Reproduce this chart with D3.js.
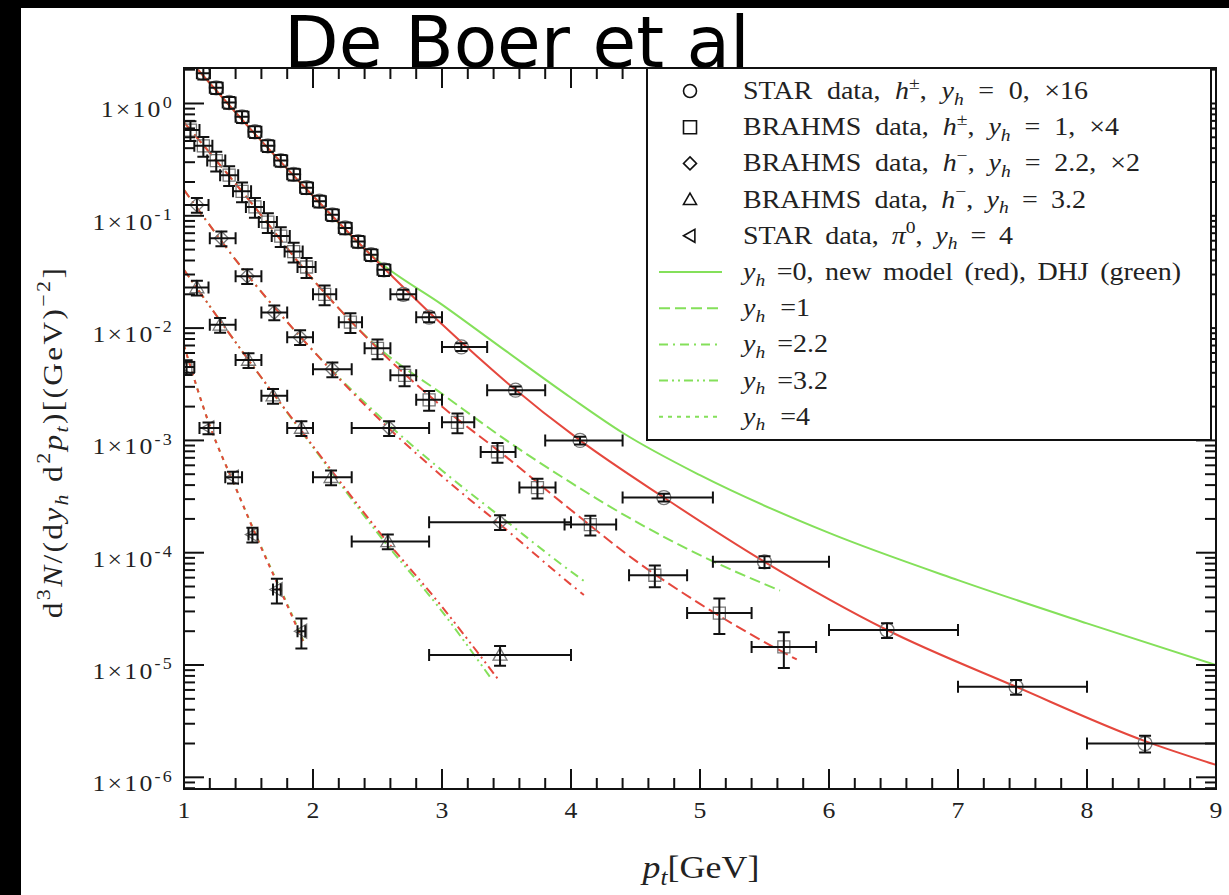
<!DOCTYPE html>
<html>
<head>
<meta charset="utf-8">
<script src="https://cdn.jsdelivr.net/npm/d3@7"></script>
<style>
  html, body { margin: 0; padding: 0; background: #fff; }
  svg { display: block; }
</style>
</head>
<body>
<script>
// ---- data -------------------------------------------------------------
// each row: [pt, value, ptLow, ptHigh, relative error]
const starY0 = [
  [1.15, 1.86, 1.10, 1.20, 0.12], [1.25, 1.38, 1.20, 1.30, 0.12],
  [1.35, 1.02, 1.30, 1.40, 0.12], [1.45, 0.76, 1.40, 1.50, 0.12],
  [1.55, 0.56, 1.50, 1.60, 0.12], [1.65, 0.42, 1.60, 1.70, 0.12],
  [1.75, 0.31, 1.70, 1.80, 0.12], [1.85, 0.234, 1.80, 1.90, 0.12],
  [1.95, 0.178, 1.90, 2.00, 0.12], [2.05, 0.135, 2.00, 2.10, 0.12],
  [2.15, 0.102, 2.10, 2.20, 0.12], [2.25, 0.078, 2.20, 2.30, 0.12],
  [2.35, 0.059, 2.30, 2.40, 0.12], [2.45, 0.045, 2.40, 2.50, 0.12],
  [2.55, 0.033, 2.50, 2.60, 0.12], [2.70, 0.020, 2.60, 2.80, 0.10],
  [2.90, 0.0125, 2.80, 3.00, 0.10], [3.15, 0.0068, 3.00, 3.35, 0.08],
  [3.57, 0.0028, 3.35, 3.80, 0.08], [4.07, 0.00100, 3.80, 4.40, 0.08],
  [4.72, 0.00031, 4.40, 5.10, 0.08], [5.50, 8.3e-5, 5.10, 6.00, 0.12],
  [6.45, 2.05e-5, 6.00, 7.00, 0.15], [7.45, 6.4e-6, 7.00, 8.00, 0.15],
  [8.45, 2.0e-6, 8.00, 9.00, 0.17]
];
const brahmsY1 = [
  [1.05, 0.58, 0.98, 1.12, 0.2], [1.15, 0.42, 1.08, 1.22, 0.2],
  [1.25, 0.31, 1.18, 1.32, 0.2], [1.35, 0.23, 1.28, 1.42, 0.2],
  [1.45, 0.165, 1.38, 1.52, 0.2], [1.55, 0.12, 1.48, 1.62, 0.2],
  [1.65, 0.088, 1.58, 1.72, 0.2], [1.75, 0.066, 1.68, 1.82, 0.2],
  [1.85, 0.048, 1.78, 1.92, 0.2], [1.95, 0.035, 1.88, 2.02, 0.2],
  [2.09, 0.020, 2.00, 2.18, 0.2], [2.29, 0.0113, 2.20, 2.38, 0.2],
  [2.50, 0.0066, 2.40, 2.60, 0.2], [2.71, 0.0038, 2.60, 2.80, 0.2],
  [2.90, 0.0023, 2.80, 3.00, 0.2], [3.12, 0.00145, 3.00, 3.25, 0.2],
  [3.43, 0.00079, 3.30, 3.57, 0.2], [3.74, 0.00038, 3.60, 3.88, 0.2],
  [4.15, 1.78e-4, 3.95, 4.35, 0.2], [4.65, 6.3e-5, 4.45, 4.90, 0.22],
  [5.15, 2.9e-5, 4.90, 5.40, 0.35], [5.65, 1.45e-5, 5.40, 5.90, 0.35]
];
const brahmsY22 = [
  [1.10, 0.125, 1.00, 1.19, 0.15], [1.29, 0.063, 1.20, 1.40, 0.15],
  [1.49, 0.029, 1.40, 1.60, 0.15], [1.70, 0.0138, 1.60, 1.80, 0.15],
  [1.90, 0.0083, 1.80, 2.00, 0.15], [2.15, 0.0043, 2.00, 2.30, 0.15],
  [2.59, 0.00129, 2.30, 2.90, 0.15], [3.45, 1.87e-4, 2.90, 4.00, 0.15]
];
const brahmsY32 = [
  [1.10, 0.023, 1.00, 1.19, 0.15], [1.28, 0.0107, 1.20, 1.40, 0.15],
  [1.50, 0.0052, 1.40, 1.60, 0.15], [1.69, 0.0025, 1.60, 1.80, 0.15],
  [1.91, 0.00129, 1.80, 2.00, 0.15], [2.14, 0.00047, 2.00, 2.30, 0.15],
  [2.58, 1.26e-4, 2.30, 2.90, 0.15], [3.45, 1.23e-5, 2.90, 4.00, 0.2]
];
const starY4 = [
  [1.02, 4.5e-3, 0.95, 1.08, 0.15], [1.19, 1.29e-3, 1.12, 1.28, 0.12],
  [1.38, 4.7e-4, 1.32, 1.45, 0.12], [1.53, 1.45e-4, 1.50, 1.57, 0.15],
  [1.72, 4.7e-5, 1.69, 1.75, 0.25], [1.91, 2.0e-5, 1.88, 1.94, 0.3]
];

// model curves: [pt, value]
const redY0 = [[1.1, 2.05], [1.5, 0.62], [2.0, 0.150], [2.5, 0.039], [3.0, 0.0108],
  [3.5, 0.0033], [4.07, 0.00100], [4.72, 3.1e-4], [5.5, 8.3e-5], [6.45, 2.05e-5],
  [7.45, 6.4e-6], [8.45, 2.1e-6], [9.0, 1.29e-6]];
const greenY0 = [[1.1, 2.05], [1.5, 0.62], [2.0, 0.150], [2.5, 0.040], [3.0, 0.0162],
  [3.5, 0.0062], [4.0, 0.0024], [4.4, 1.17e-3], [5.0, 4.9e-4], [6.0, 1.5e-4],
  [7.0, 5.7e-5], [8.0, 2.35e-5], [9.0, 1.0e-5]];
const redY1 = [[1.0, 0.68], [1.5, 0.14], [2.0, 0.027], [2.5, 0.0066], [3.0, 0.0020],
  [3.5, 7.1e-4], [4.0, 2.4e-4], [4.5, 8.5e-5], [5.0, 3.5e-5], [5.5, 1.6e-5],
  [5.75, 1.12e-5]];
const greenY1 = [[1.0, 0.68], [1.5, 0.14], [2.0, 0.027], [2.5, 0.0068], [3.0, 0.0026],
  [3.5, 1.0e-3], [4.0, 4.2e-4], [4.5, 1.9e-4], [5.0, 9.5e-5], [5.62, 4.6e-5]];
const redY22 = [[1.0, 0.17], [1.5, 0.029], [2.0, 0.0063], [2.5, 0.0016], [3.0, 4.8e-4],
  [3.5, 1.6e-4], [4.0, 5.2e-5], [4.1, 4.2e-5]];
const greenY22 = [[1.0, 0.17], [1.5, 0.029], [2.0, 0.0063], [2.5, 0.0017], [3.0, 5.4e-4],
  [3.5, 1.9e-4], [4.0, 6.8e-5], [4.1, 5.6e-5]];
const redY32 = [[1.0, 0.033], [1.5, 0.0052], [2.0, 8.9e-4], [2.5, 1.6e-4], [3.0, 3.3e-5],
  [3.43, 7.6e-6]];
const greenY32 = [[1.0, 0.033], [1.5, 0.0052], [2.0, 8.7e-4], [2.5, 1.5e-4], [3.0, 3.0e-5],
  [3.38, 7.6e-6]];
const redY4 = [[1.0, 7.0e-3], [1.2, 1.35e-3], [1.4, 3.8e-4], [1.6, 1.1e-4], [1.8, 3.4e-5],
  [1.93, 1.55e-5]];
const greenY4 = [[1.0, 7.0e-3], [1.2, 1.35e-3], [1.4, 3.8e-4], [1.6, 1.12e-4], [1.8, 3.5e-5],
  [1.93, 1.6e-5]];

const xTickValues = [1, 2, 3, 4, 5, 6, 7, 8, 9];
const yDecadeExponents = [0, -1, -2, -3, -4, -5, -6];

// line styles per rapidity
const DASH = { y0: null, y1: "11,5", y22: "9,5,2,5", y32: "9,4,2,4,2,4", y4: "4,5" };

const legendRows = [
  { marker: "circle", parts: [{ t: "STAR data, " }, { t: "h", i: 1 }, { t: "±", sup: 1 }, { t: ", " }, { t: "y", i: 1 }, { t: "h", i: 1, sub: 1 }, { t: " = 0, ×16" }] },
  { marker: "square", parts: [{ t: "BRAHMS data, " }, { t: "h", i: 1 }, { t: "±", sup: 1 }, { t: ", " }, { t: "y", i: 1 }, { t: "h", i: 1, sub: 1 }, { t: " = 1, ×4" }] },
  { marker: "diamond", parts: [{ t: "BRAHMS data, " }, { t: "h", i: 1 }, { t: "−", sup: 1 }, { t: ", " }, { t: "y", i: 1 }, { t: "h", i: 1, sub: 1 }, { t: " = 2.2, ×2" }] },
  { marker: "triangle", parts: [{ t: "BRAHMS data, " }, { t: "h", i: 1 }, { t: "−", sup: 1 }, { t: ", " }, { t: "y", i: 1 }, { t: "h", i: 1, sub: 1 }, { t: " = 3.2" }] },
  { marker: "ltriangle", parts: [{ t: "STAR data, " }, { t: "π", i: 1 }, { t: "0", sup: 1 }, { t: ", " }, { t: "y", i: 1 }, { t: "h", i: 1, sub: 1 }, { t: " = 4" }] },
  { dash: DASH.y0, parts: [{ t: "y", i: 1 }, { t: "h", i: 1, sub: 1 }, { t: " =0, new model (red), DHJ (green)" }] },
  { dash: DASH.y1, parts: [{ t: "y", i: 1 }, { t: "h", i: 1, sub: 1 }, { t: " =1" }] },
  { dash: DASH.y22, parts: [{ t: "y", i: 1 }, { t: "h", i: 1, sub: 1 }, { t: " =2.2" }] },
  { dash: DASH.y32, parts: [{ t: "y", i: 1 }, { t: "h", i: 1, sub: 1 }, { t: " =3.2" }] },
  { dash: DASH.y4, parts: [{ t: "y", i: 1 }, { t: "h", i: 1, sub: 1 }, { t: " =4" }] }
];
// drawn width of each legend label
const legendTextWidths = [345, 376, 397, 343, 270, 438, 67, 85, 85, 67];

// ---- layout -------------------------------------------------------------
const W = 1229, H = 895;
const plot = { left: 184, right: 1216, top: 68, bottom: 789 };
const RED = "#e5473d", GREEN = "#84e05a";
const SERIF = "'Liberation Serif', 'DejaVu Serif', serif";
const SX = 1.12;           // horizontal stretch giving the serif face a wider, TeX-like set
const INK = "#222";

const svg = d3.select("body").append("svg").attr("width", W).attr("height", H);
svg.append("rect").attr("width", W).attr("height", H).attr("fill", "#fff");

const x = d3.scaleLinear().domain([1, 9]).range([plot.left, plot.right]);
const y = d3.scaleLog().domain([Math.pow(10, -6.104), Math.pow(10, 0.316)]).range([plot.bottom, plot.top]);

function rich(textSel, parts, size) {
  let shift = 0;
  parts.forEach(p => {
    const target = p.sup ? -0.42 * size : p.sub ? 0.22 * size : 0;
    const ts = textSel.append("tspan").text(p.t).attr("dy", target - shift);
    shift = target;
    if (p.sup || p.sub) ts.attr("font-size", size * 0.7);
    if (p.i) ts.attr("font-style", "italic");
  });
}

// a serif label anchored at (px, py), optionally rotated, stretched by SX along its run
function label(parent, px, py, size, opts = {}) {
  const g = parent.append("g")
    .attr("transform", `translate(${px},${py})${opts.rotate ? ` rotate(${opts.rotate})` : ""} scale(${SX},1)`);
  return g.append("text").attr("x", 0).attr("y", 0)
    .attr("text-anchor", opts.anchor || "start")
    .attr("font-family", SERIF).attr("font-size", size).attr("fill", INK);
}
// widen a label to a given drawn width, putting the extra into word spaces or letters
function fit(textSel, width, mode) {
  const node = textSel.node();
  const natural = node.getComputedTextLength();
  const want = width / SX;
  if (want <= natural) return;
  const str = node.textContent;
  if (mode === "words") {
    const n = (str.match(/ /g) || []).length;
    if (n) textSel.attr("word-spacing", (want - natural) / n);
  } else {
    textSel.attr("letter-spacing", (want - natural) / Math.max(1, str.length - 1));
  }
}

// ---- model curves ---------------------------------------------------------
const curveGen = d3.line().x(d => x(d[0])).y(d => y(d[1])).curve(d3.curveMonotoneX);
svg.append("clipPath").attr("id", "plotclip").append("rect")
  .attr("x", plot.left).attr("y", plot.top)
  .attr("width", plot.right - plot.left).attr("height", plot.bottom - plot.top);
const curveLayer = svg.append("g").attr("clip-path", "url(#plotclip)");
const curves = [
  [greenY0, GREEN, DASH.y0], [redY0, RED, DASH.y0],
  [greenY1, GREEN, DASH.y1], [redY1, RED, DASH.y1],
  [greenY22, GREEN, DASH.y22], [redY22, RED, DASH.y22],
  [greenY32, GREEN, DASH.y32], [redY32, RED, DASH.y32],
  [greenY4, GREEN, DASH.y4], [redY4, RED, DASH.y4]
];
curves.forEach(([data, color, dash]) => {
  curveLayer.append("path").datum(data).attr("d", curveGen)
    .attr("fill", "none").attr("stroke", color).attr("stroke-width", 2)
    .attr("stroke-dasharray", dash);
});

// ---- data points with error bars ------------------------------------------
const markerPath = {
  circle: r => d3.symbol().type(d3.symbolCircle).size(Math.PI * r * r)(),
  square: r => `M${-r},${-r}H${r}V${r}H${-r}Z`,
  diamond: r => `M0,${-r}L${r},0L0,${r}L${-r},0Z`,
  triangle: r => `M0,${-r}L${r},${r * 0.75}L${-r},${r * 0.75}Z`,
  ltriangle: r => `M${-r},0L${r * 0.75},${-r}L${r * 0.75},${r}Z`
};
function drawSeries(data, marker, r) {
  const g = svg.append("g").attr("clip-path", "url(#plotclip)");
  data.forEach(([pt, v, lo, hi, e]) => {
    const cx = x(pt), cy = y(v);
    const y1 = y(v * (1 + e)), y2 = y(v * (1 - e));
    const cap = 6;
    g.append("path").attr("d", markerPath[marker](r))
      .attr("transform", `translate(${cx},${cy})`)
      .attr("fill", "none").attr("stroke", "#777").attr("stroke-width", 1.3);
    const eb = `M${x(lo)},${cy}H${x(hi)}M${x(lo)},${cy - cap}V${cy + cap}M${x(hi)},${cy - cap}V${cy + cap}` +
      `M${cx},${y1}V${y2}M${cx - cap},${y1}H${cx + cap}M${cx - cap},${y2}H${cx + cap}`;
    g.append("path").attr("d", eb).attr("fill", "none").attr("stroke", "#111").attr("stroke-width", 2);
  });
}
drawSeries(starY0, "circle", 7);
drawSeries(brahmsY1, "square", 6);
drawSeries(brahmsY22, "diamond", 7);
drawSeries(brahmsY32, "triangle", 7);
drawSeries(starY4, "ltriangle", 7);

// ---- frame and ticks (all pointing inwards) -------------------------------
const axes = svg.append("g").attr("stroke", "#111").attr("stroke-width", 2);
d3.range(0, 41).map(i => 1 + i * 0.2).forEach(v => {
  const major = Math.abs(v - Math.round(v)) < 1e-6;
  const len = major ? 20 : 11;
  axes.append("line").attr("x1", x(v)).attr("x2", x(v)).attr("y1", plot.bottom).attr("y2", plot.bottom - len);
  axes.append("line").attr("x1", x(v)).attr("x2", x(v)).attr("y1", plot.top).attr("y2", plot.top + len);
});
[1, 0, -1, -2, -3, -4, -5, -6, -7].forEach(ex => {
  for (let m = 1; m <= 9; m++) {
    const py = y(m * Math.pow(10, ex));
    if (py < plot.top - 0.5 || py > plot.bottom + 0.5) continue;
    const len = m === 1 ? 20 : 11;
    axes.append("line").attr("x1", plot.left).attr("x2", plot.left + len).attr("y1", py).attr("y2", py);
    axes.append("line").attr("x1", plot.right).attr("x2", plot.right - len).attr("y1", py).attr("y2", py);
  }
});
axes.append("rect").attr("x", plot.left).attr("y", plot.top)
  .attr("width", plot.right - plot.left).attr("height", plot.bottom - plot.top).attr("fill", "none");

// tick labels
const tickText = svg.append("g");
xTickValues.forEach(v => {
  label(tickText, x(v), plot.bottom + 29, 23, { anchor: "middle" }).text(v);
});
yDecadeExponents.forEach(ex => {
  const t = label(tickText, 174, y(Math.pow(10, ex)) + 14, 23, { anchor: "end" }).attr("letter-spacing", 2);
  rich(t, [{ t: "1×10" }, { t: String(ex), sup: 1 }], 23);
});

// axis titles
const xt = label(svg, 701, 878, 32, { anchor: "middle" });
rich(xt, [{ t: "p", i: 1 }, { t: "t", i: 1, sub: 1 }, { t: "[GeV]" }], 32);
fit(xt, 117, "letters");

const yt = label(svg, 62, 442, 28, { anchor: "middle", rotate: -90 });
rich(yt, [{ t: "d" }, { t: "3", sup: 1 }, { t: "N", i: 1 }, { t: "/(d" }, { t: "y", i: 1 }, { t: "h", i: 1, sub: 1 },
  { t: " d" }, { t: "2", sup: 1 }, { t: "p", i: 1 }, { t: "t", i: 1, sub: 1 }, { t: ")[(GeV)" }, { t: "−2", sup: 1 }, { t: "]" }], 28);
fit(yt, 350, "letters");

// ---- legend ---------------------------------------------------------------
const lg = svg.append("g");
lg.append("rect").attr("x", 647).attr("y", plot.top).attr("width", 1211 - 647).attr("height", 440 - plot.top)
  .attr("fill", "#fff").attr("stroke", "#111").attr("stroke-width", 2);
legendRows.forEach((row, i) => {
  const cy = 91 + i * 36.2;
  if (row.marker) {
    lg.append("path").attr("d", markerPath[row.marker](6.5))
      .attr("transform", `translate(690,${cy})`)
      .attr("fill", "none").attr("stroke", "#111").attr("stroke-width", 1.6);
  } else {
    lg.append("line").attr("x1", 659).attr("x2", 722).attr("y1", cy).attr("y2", cy)
      .attr("stroke", GREEN).attr("stroke-width", 2).attr("stroke-dasharray", row.dash);
  }
  const t = label(lg, 743, cy + 8, 25);
  rich(t, row.parts, 25);
  fit(t, legendTextWidths[i], "words");
});

// ---- page frame and title -------------------------------------------------
svg.append("rect").attr("x", 0).attr("y", 0).attr("width", W).attr("height", 8).attr("fill", "#000");
svg.append("rect").attr("x", 0).attr("y", 0).attr("width", 21).attr("height", H).attr("fill", "#000");
svg.append("text").attr("x", 284).attr("y", 67)
  .attr("font-family", "'DejaVu Sans', Lato, sans-serif").attr("font-size", 71).attr("fill", "#000")
  .text("De Boer et al");
</script>
</body>
</html>
